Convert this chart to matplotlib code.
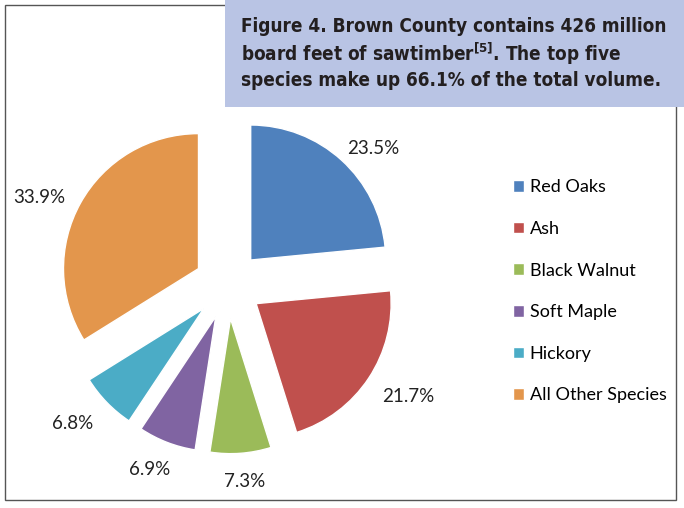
import numpy as np
import matplotlib.pyplot as plt
from matplotlib.patches import Rectangle

species = ['Red Oaks', 'Ash', 'Black Walnut', 'Soft Maple', 'Hickory', 'All Other Species']
shares = [23.5, 21.7, 7.3, 6.9, 6.8, 33.9]
colors = ['#4F81BD', '#C0504D', '#9BBB59', '#8064A2', '#4BACC6', '#E3964C']
title_lines = ['Figure 4. Brown County contains 426 million',
               r'board feet of sawtimber$^{\mathbf{[5]}}$. The top five',
               'species make up 66.1% of the total volume.']

plt.rcParams['mathtext.fontset'] = 'custom'
plt.rcParams['mathtext.rm'] = 'DejaVu Sans:stretch=condensed'
plt.rcParams['mathtext.bf'] = 'DejaVu Sans:weight=bold:stretch=condensed'

fig = plt.figure(figsize=(6.84, 5.08), dpi=100)
W, H = 684, 508

# outer chart border
fig.patches.append(Rectangle((5 / W, 8 / H), 671 / W, 495 / H, transform=fig.transFigure,
                             fill=False, edgecolor='#555555', linewidth=1))

explode = 0.25
ax = fig.add_axes([12 / W, 7 / H, 432 / W, 432 / H])
wedges, texts, autotexts = ax.pie(shares, colors=colors, startangle=90, counterclock=False,
                                  explode=[explode] * 6, autopct='%1.1f%%',
                                  wedgeprops=dict(edgecolor='white', linewidth=1),
                                  textprops=dict(fontsize=13.5, color='#222222', family=['Lato', 'DejaVu Sans']))
# labels sit on a slightly flattened ring outside the wedges (as Excel lays them out)
for w, t in zip(wedges, autotexts):
    a = np.deg2rad((w.theta1 + w.theta2) / 2)
    t.set_position((1.6 * np.cos(a), 1.42 * np.sin(a) - 0.04))
ax.set_xlim(-1.6, 1.6)
ax.set_ylim(-1.6, 1.6)
ax.set_aspect('equal')
ax.axis('off')

leg = fig.legend(wedges, species, loc='upper left', bbox_to_anchor=(497 / W, 1 - 163 / H),
                 frameon=False, prop=dict(family=['Lato', 'DejaVu Sans'], size=13),
                 handlelength=0.6, handleheight=0.6, handletextpad=0.3, labelspacing=1.42)

# title box
fig.patches.append(Rectangle((225 / W, 1 - 107 / H), 460 / W, 107 / H, transform=fig.transFigure,
                             facecolor='#B9C4E4', edgecolor='none', zorder=5))
for i, line in enumerate(title_lines):
    fig.text(241 / W, 1 - (26 + i * 27.5) / H, line, fontsize=13.6, fontweight='bold',
             family='DejaVu Sans', fontstretch='condensed', color='#231F20',
             va='center', ha='left', zorder=6)

fig.savefig('out.png', dpi=100)
